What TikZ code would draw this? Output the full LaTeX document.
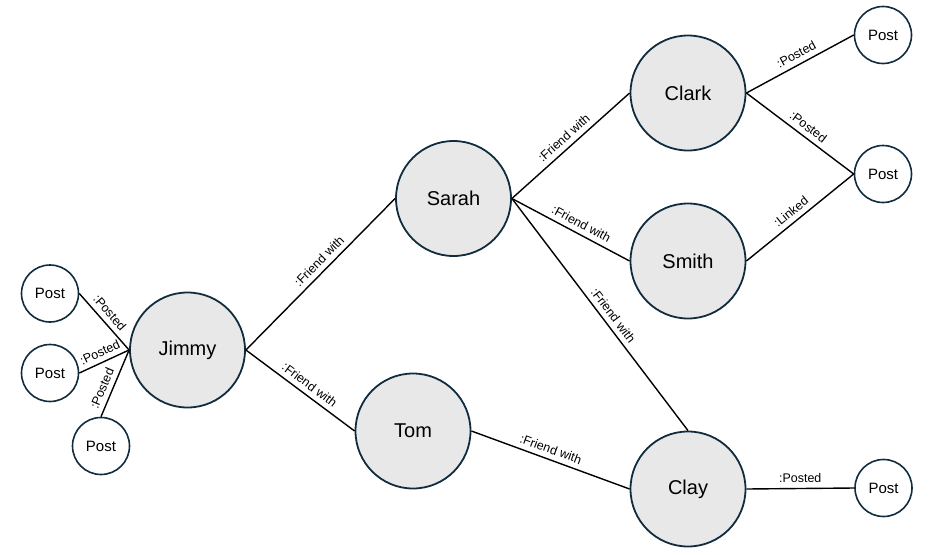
\documentclass[tikz,border=0pt]{standalone}
\usepackage{fontspec}
\setmainfont{Liberation Sans}
\definecolor{bordercol}{RGB}{16,44,62}
\definecolor{fillcol}{RGB}{232,232,232}
\begin{document}
\begin{tikzpicture}[x=1pt,y=-1pt,
  person/.style={circle,draw=bordercol,line width=1.8pt,fill=fillcol,minimum size=115pt,inner sep=0pt,font=\fontsize{20}{24}\selectfont},
  post/.style={circle,draw=bordercol,line width=1.6pt,fill=white,minimum size=57pt,inner sep=0pt,font=\fontsize{15}{18}\selectfont},
  edge/.style={line width=1.4pt,black},
  lbl/.style={font=\fontsize{12.5}{14}\selectfont,sloped,above=3pt,inner sep=2pt}]
\useasboundingbox (0,0) rectangle (934,554);
\node[person] (jimmy) at (187.5,350) {Jimmy};
\node[person] (sarah) at (453.5,198.5) {Sarah};
\node[person] (tom) at (413,431) {Tom};
\node[person] (clark) at (688,93) {Clark};
\node[person] (smith) at (688,261) {Smith};
\node[person] (clay) at (688,489) {Clay};
\node[post] (p1) at (50,293.5) {Post};
\node[post] (p2) at (50,373) {Post};
\node[post] (p3) at (101,446) {Post};
\node[post] (p4) at (883,35) {Post};
\node[post] (p5) at (883,174) {Post};
\node[post] (p6) at (883.5,488) {Post};
\draw[edge] (p1.east) -- node[lbl,pos=0.46] {:Posted} (jimmy.west);
\draw[edge] (p2.east) -- node[lbl,pos=0.5] {:Posted} (jimmy.west);
\draw[edge] (p3.north) -- node[lbl,pos=0.37] {:Posted} (jimmy.west);
\draw[edge] (jimmy.east) -- node[lbl,pos=0.54] {:Friend with} (sarah.west);
\draw[edge] (jimmy.east) -- node[lbl,pos=0.53] {:Friend with} (tom.west);
\draw[edge] (tom.east) -- node[lbl,pos=0.48] {:Friend with} (clay.west);
\draw[edge] (sarah.east) -- node[lbl,pos=0.5] {:Friend with} (clark.west);
\draw[edge] (sarah.east) -- node[lbl,pos=0.55] {:Friend with} (smith.west);
\draw[edge] (sarah.east) -- node[lbl,pos=0.53] {:Friend with} (clay.north);
\draw[edge] (clark.east) -- node[lbl,pos=0.51] {:Posted} (p4.west);
\draw[edge] (clark.east) -- node[lbl,pos=0.52] {:Posted} (p5.west);
\draw[edge] (smith.east) -- node[lbl,pos=0.475] {:Linked} (p5.west);
\draw[edge] (clay.east) -- node[lbl,pos=0.5] {:Posted} (p6.west);
\end{tikzpicture}
\end{document}
